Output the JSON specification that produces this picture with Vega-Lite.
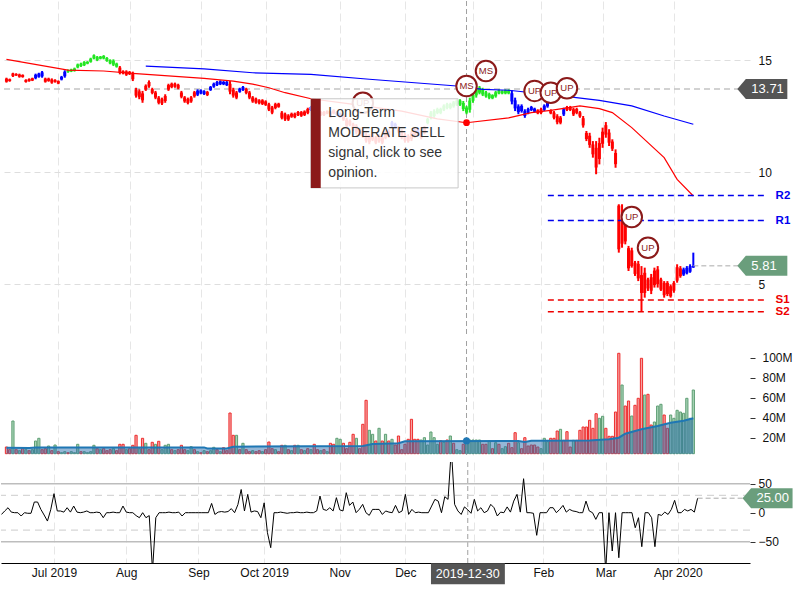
{
"$schema":"https://vega.github.io/schema/vega-lite/v6.json",
"padding":0,
"background":"white",
"spacing":5,
"config":{"view":{"stroke":null},"font":"Liberation Sans","axis":{"labelFontSize":12,"labelColor":"#111","title":null,"labelOverlap":false,"labelFlush":false}},
"datasets":{
"bars":[
{"n":0,"d":"2019-06-07","o":14.17,"h":14.21,"l":13.99,"c":14.03,"v":10.7,"s":-3,"sig":"sell"},
{"n":1,"d":"2019-06-10","o":14.14,"h":14.17,"l":14.03,"c":14.06,"v":8,"s":3,"sig":"sell"},
{"n":2,"d":"2019-06-11","o":14.28,"h":14.43,"l":14.24,"c":14.40,"v":36.7,"s":8.6,"sig":"sell"},
{"n":3,"d":"2019-06-12","o":14.38,"h":14.41,"l":14.29,"c":14.31,"v":8,"s":1,"sig":"sell"},
{"n":4,"d":"2019-06-13","o":14.25,"h":14.39,"l":14.21,"c":14.35,"v":7,"s":0,"sig":"sell"},
{"n":5,"d":"2019-06-14","o":14.33,"h":14.36,"l":14.21,"c":14.24,"v":9,"s":0,"sig":"sell"},
{"n":6,"d":"2019-06-17","o":14.02,"h":14.14,"l":13.99,"c":14.11,"v":8,"s":-5.7,"sig":"sell"},
{"n":7,"d":"2019-06-18","o":14.15,"h":14.18,"l":14.03,"c":14.06,"v":7,"s":0,"sig":"sell"},
{"n":8,"d":"2019-06-19","o":14.09,"h":14.21,"l":14.06,"c":14.18,"v":8,"s":-1,"sig":"sell"},
{"n":9,"d":"2019-06-20","o":14.19,"h":14.39,"l":14.14,"c":14.34,"v":16.7,"s":-1,"sig":"hold"},
{"n":10,"d":"2019-06-21","o":14.25,"h":14.43,"l":14.21,"c":14.39,"v":19.4,"s":18.4,"sig":"hold"},
{"n":11,"d":"2019-06-24","o":14.45,"h":14.51,"l":14.21,"c":14.27,"v":8,"s":18.4,"sig":"hold"},
{"n":12,"d":"2019-06-25","o":14.17,"h":14.21,"l":13.99,"c":14.03,"v":9,"s":5.7,"sig":"sell"},
{"n":13,"d":"2019-06-26","o":14.07,"h":14.21,"l":14.03,"c":14.17,"v":11.7,"s":-4,"sig":"sell"},
{"n":14,"d":"2019-06-27","o":14.13,"h":14.18,"l":13.94,"c":13.99,"v":7,"s":-14.4,"sig":"sell"},
{"n":15,"d":"2019-06-28","o":14.02,"h":14.14,"l":13.99,"c":14.11,"v":12.7,"s":5,"sig":"sell"},
{"n":16,"d":"2019-07-01","o":14.06,"h":14.09,"l":13.92,"c":13.95,"v":6,"s":32.8,"sig":"sell"},
{"n":17,"d":"2019-07-02","o":14.13,"h":14.29,"l":14.09,"c":14.25,"v":5,"s":3,"sig":"hold"},
{"n":18,"d":"2019-07-03","o":14.28,"h":14.54,"l":14.21,"c":14.47,"v":6,"s":2.9,"sig":"hold"},
{"n":19,"d":"2019-07-05","o":14.55,"h":14.58,"l":14.43,"c":14.46,"v":5,"s":1,"sig":"buy"},
{"n":20,"d":"2019-07-08","o":14.49,"h":14.61,"l":14.46,"c":14.58,"v":6,"s":8.6,"sig":"buy"},
{"n":21,"d":"2019-07-09","o":14.52,"h":14.66,"l":14.48,"c":14.62,"v":5,"s":1,"sig":"buy"},
{"n":22,"d":"2019-07-10","o":14.67,"h":14.84,"l":14.63,"c":14.80,"v":13.4,"s":11.5,"sig":"buy"},
{"n":23,"d":"2019-07-11","o":14.84,"h":14.88,"l":14.69,"c":14.73,"v":6,"s":1,"sig":"buy"},
{"n":24,"d":"2019-07-12","o":14.77,"h":14.95,"l":14.73,"c":14.91,"v":6,"s":0,"sig":"buy"},
{"n":25,"d":"2019-07-15","o":14.84,"h":14.95,"l":14.81,"c":14.92,"v":5,"s":1,"sig":"buy"},
{"n":26,"d":"2019-07-16","o":14.92,"h":15.10,"l":14.88,"c":15.06,"v":6,"s":3,"sig":"buy"},
{"n":27,"d":"2019-07-17","o":15.07,"h":15.25,"l":15.03,"c":15.21,"v":12.4,"s":0,"sig":"buy"},
{"n":28,"d":"2019-07-18","o":15.13,"h":15.18,"l":14.95,"c":15.00,"v":9,"s":0,"sig":"buy"},
{"n":29,"d":"2019-07-19","o":15.06,"h":15.18,"l":15.03,"c":15.15,"v":8,"s":1,"sig":"buy"},
{"n":30,"d":"2019-07-22","o":15.18,"h":15.22,"l":15.03,"c":15.07,"v":9,"s":0,"sig":"buy"},
{"n":31,"d":"2019-07-23","o":15.09,"h":15.13,"l":14.92,"c":14.96,"v":7,"s":-8.6,"sig":"buy"},
{"n":32,"d":"2019-07-24","o":14.99,"h":15.03,"l":14.81,"c":14.85,"v":8,"s":0,"sig":"buy"},
{"n":33,"d":"2019-07-25","o":14.79,"h":15.03,"l":14.73,"c":14.97,"v":9,"s":0,"sig":"buy"},
{"n":34,"d":"2019-07-26","o":14.84,"h":14.88,"l":14.66,"c":14.70,"v":7,"s":1,"sig":"buy"},
{"n":35,"d":"2019-07-29","o":14.66,"h":14.73,"l":14.36,"c":14.43,"v":13.4,"s":0,"sig":"sell"},
{"n":36,"d":"2019-07-30","o":14.50,"h":14.54,"l":14.36,"c":14.40,"v":13.4,"s":0,"sig":"sell"},
{"n":37,"d":"2019-07-31","o":14.34,"h":14.54,"l":14.29,"c":14.49,"v":8,"s":11.5,"sig":"sell"},
{"n":38,"d":"2019-08-01","o":14.47,"h":14.51,"l":14.33,"c":14.37,"v":9,"s":1,"sig":"sell"},
{"n":39,"d":"2019-08-02","o":14.40,"h":14.48,"l":14.06,"c":14.14,"v":12.4,"s":0,"sig":"sell"},
{"n":40,"d":"2019-08-05","o":13.67,"h":13.76,"l":13.32,"c":13.41,"v":22.4,"s":0,"sig":"sell"},
{"n":41,"d":"2019-08-06","o":13.34,"h":13.69,"l":13.25,"c":13.60,"v":9,"s":-5,"sig":"sell"},
{"n":42,"d":"2019-08-07","o":13.51,"h":13.62,"l":13.09,"c":13.20,"v":19.4,"s":-8.6,"sig":"sell"},
{"n":43,"d":"2019-08-08","o":13.68,"h":13.91,"l":13.62,"c":13.85,"v":14.4,"s":0,"sig":"sell"},
{"n":44,"d":"2019-08-09","o":14.02,"h":14.09,"l":13.76,"c":13.83,"v":8,"s":-8.6,"sig":"sell"},
{"n":45,"d":"2019-08-12","o":13.70,"h":13.76,"l":13.47,"c":13.53,"v":15.4,"s":-5,"sig":"sell"},
{"n":46,"d":"2019-08-13","o":13.32,"h":13.62,"l":13.25,"c":13.55,"v":13.4,"s":-100,"sig":"sell"},
{"n":47,"d":"2019-08-14","o":13.32,"h":13.39,"l":13.02,"c":13.09,"v":16.4,"s":-8.6,"sig":"sell"},
{"n":48,"d":"2019-08-15","o":13.06,"h":13.32,"l":12.99,"c":13.25,"v":8,"s":0,"sig":"sell"},
{"n":49,"d":"2019-08-16","o":13.17,"h":13.47,"l":13.09,"c":13.39,"v":12.4,"s":0,"sig":"sell"},
{"n":50,"d":"2019-08-19","o":13.68,"h":13.94,"l":13.62,"c":13.88,"v":13.4,"s":0,"sig":"sell"},
{"n":51,"d":"2019-08-20","o":13.94,"h":13.99,"l":13.74,"c":13.79,"v":8,"s":1,"sig":"sell"},
{"n":52,"d":"2019-08-21","o":13.81,"h":13.99,"l":13.76,"c":13.94,"v":7,"s":0,"sig":"sell"},
{"n":53,"d":"2019-08-22","o":13.89,"h":13.94,"l":13.69,"c":13.74,"v":8,"s":0,"sig":"sell"},
{"n":54,"d":"2019-08-23","o":13.55,"h":13.62,"l":13.29,"c":13.36,"v":12.4,"s":1,"sig":"sell"},
{"n":55,"d":"2019-08-26","o":13.33,"h":13.39,"l":13.09,"c":13.15,"v":8,"s":-5.7,"sig":"sell"},
{"n":56,"d":"2019-08-27","o":13.08,"h":13.32,"l":13.02,"c":13.26,"v":7,"s":0,"sig":"sell"},
{"n":57,"d":"2019-08-28","o":13.15,"h":13.39,"l":13.09,"c":13.33,"v":11,"s":0,"sig":"sell"},
{"n":58,"d":"2019-08-29","o":13.56,"h":13.62,"l":13.32,"c":13.38,"v":8,"s":0,"sig":"sell"},
{"n":59,"d":"2019-08-30","o":13.45,"h":13.69,"l":13.39,"c":13.63,"v":6,"s":0,"sig":"hold"},
{"n":60,"d":"2019-09-03","o":13.65,"h":13.69,"l":13.47,"c":13.51,"v":5,"s":0,"sig":"hold"},
{"n":61,"d":"2019-09-04","o":13.48,"h":13.65,"l":13.44,"c":13.61,"v":7,"s":0,"sig":"hold"},
{"n":62,"d":"2019-09-05","o":13.57,"h":13.62,"l":13.39,"c":13.44,"v":6,"s":0,"sig":"sell"},
{"n":63,"d":"2019-09-06","o":13.66,"h":13.84,"l":13.62,"c":13.80,"v":7,"s":0,"sig":"hold"},
{"n":64,"d":"2019-09-09","o":13.81,"h":13.99,"l":13.76,"c":13.94,"v":10.4,"s":16,"sig":"hold"},
{"n":65,"d":"2019-09-10","o":14.02,"h":14.06,"l":13.84,"c":13.88,"v":8,"s":-3,"sig":"hold"},
{"n":66,"d":"2019-09-11","o":13.92,"h":14.09,"l":13.88,"c":14.05,"v":6,"s":1,"sig":"hold"},
{"n":67,"d":"2019-09-12","o":14.02,"h":14.06,"l":13.88,"c":13.92,"v":10,"s":2,"sig":"hold"},
{"n":68,"d":"2019-09-13","o":14.02,"h":14.06,"l":13.84,"c":13.88,"v":7,"s":1,"sig":"hold"},
{"n":69,"d":"2019-09-16","o":13.94,"h":14.06,"l":13.47,"c":13.59,"v":44.7,"s":2,"sig":"sell"},
{"n":70,"d":"2019-09-17","o":13.67,"h":13.76,"l":13.32,"c":13.41,"v":22.4,"s":7,"sig":"sell"},
{"n":71,"d":"2019-09-18","o":13.32,"h":13.62,"l":13.25,"c":13.55,"v":22.4,"s":0,"sig":"sell"},
{"n":72,"d":"2019-09-19","o":13.72,"h":13.76,"l":13.54,"c":13.58,"v":8,"s":14,"sig":"hold"},
{"n":73,"d":"2019-09-20","o":13.66,"h":13.84,"l":13.62,"c":13.80,"v":14.4,"s":40,"sig":"hold"},
{"n":74,"d":"2019-09-23","o":13.70,"h":13.76,"l":13.47,"c":13.53,"v":8,"s":3,"sig":"sell"},
{"n":75,"d":"2019-09-24","o":13.55,"h":13.62,"l":13.25,"c":13.32,"v":6,"s":31.6,"sig":"sell"},
{"n":76,"d":"2019-09-25","o":13.15,"h":13.39,"l":13.09,"c":13.33,"v":7,"s":1,"sig":"sell"},
{"n":77,"d":"2019-09-26","o":13.27,"h":13.32,"l":13.05,"c":13.10,"v":6,"s":3,"sig":"sell"},
{"n":78,"d":"2019-09-27","o":13.20,"h":13.25,"l":13.02,"c":13.07,"v":7,"s":2,"sig":"sell"},
{"n":79,"d":"2019-09-30","o":13.04,"h":13.25,"l":12.99,"c":13.20,"v":6,"s":-8.6,"sig":"sell"},
{"n":80,"d":"2019-10-01","o":13.15,"h":13.20,"l":12.95,"c":13.00,"v":8,"s":17,"sig":"sell"},
{"n":81,"d":"2019-10-02","o":13.02,"h":13.09,"l":12.72,"c":12.79,"v":15.7,"s":-34.5,"sig":"sell"},
{"n":82,"d":"2019-10-03","o":12.88,"h":12.95,"l":12.58,"c":12.65,"v":9,"s":-60.3,"sig":"sell"},
{"n":83,"d":"2019-10-04","o":12.86,"h":13.09,"l":12.80,"c":13.03,"v":8,"s":0,"sig":"sell"},
{"n":84,"d":"2019-10-07","o":13.05,"h":13.09,"l":12.87,"c":12.91,"v":6,"s":0,"sig":"sell"},
{"n":85,"d":"2019-10-08","o":12.65,"h":12.72,"l":12.35,"c":12.42,"v":12.4,"s":1,"sig":"sell"},
{"n":86,"d":"2019-10-09","o":12.35,"h":12.65,"l":12.28,"c":12.58,"v":12.4,"s":0,"sig":"sell"},
{"n":87,"d":"2019-10-10","o":12.52,"h":12.58,"l":12.28,"c":12.34,"v":8,"s":-1,"sig":"sell"},
{"n":88,"d":"2019-10-11","o":12.47,"h":12.65,"l":12.42,"c":12.60,"v":7,"s":0,"sig":"sell"},
{"n":89,"d":"2019-10-14","o":12.60,"h":12.65,"l":12.40,"c":12.45,"v":12.4,"s":0,"sig":"sell"},
{"n":90,"d":"2019-10-15","o":12.54,"h":12.72,"l":12.50,"c":12.68,"v":12.4,"s":1,"sig":"sell"},
{"n":91,"d":"2019-10-16","o":12.67,"h":12.72,"l":12.46,"c":12.51,"v":8,"s":0,"sig":"sell"},
{"n":92,"d":"2019-10-17","o":12.55,"h":12.75,"l":12.50,"c":12.70,"v":7,"s":0,"sig":"sell"},
{"n":93,"d":"2019-10-18","o":12.81,"h":12.87,"l":12.58,"c":12.64,"v":9,"s":1,"sig":"sell"},
{"n":94,"d":"2019-10-21","o":12.77,"h":12.95,"l":12.72,"c":12.90,"v":8,"s":0,"sig":"hold"},
{"n":95,"d":"2019-10-22","o":12.83,"h":12.87,"l":12.65,"c":12.69,"v":13.4,"s":0,"sig":"hold"},
{"n":96,"d":"2019-10-23","o":12.76,"h":12.80,"l":12.58,"c":12.62,"v":8,"s":3,"sig":"sell"},
{"n":97,"d":"2019-10-24","o":12.54,"h":12.72,"l":12.50,"c":12.68,"v":7,"s":28.7,"sig":"sell"},
{"n":98,"d":"2019-10-25","o":12.68,"h":12.72,"l":12.50,"c":12.54,"v":8,"s":5.7,"sig":"sell"},
{"n":99,"d":"2019-10-28","o":12.61,"h":12.75,"l":12.58,"c":12.72,"v":6,"s":4,"sig":"sell"},
{"n":100,"d":"2019-10-29","o":12.66,"h":12.72,"l":12.42,"c":12.48,"v":14.4,"s":8.6,"sig":"sell"},
{"n":101,"d":"2019-10-30","o":12.76,"h":12.80,"l":12.58,"c":12.62,"v":13.4,"s":3,"sig":"sell"},
{"n":102,"d":"2019-10-31","o":12.54,"h":12.72,"l":12.50,"c":12.68,"v":19.4,"s":25.9,"sig":"hold"},
{"n":103,"d":"2019-11-01","o":12.46,"h":12.65,"l":12.42,"c":12.60,"v":18.4,"s":5,"sig":"hold"},
{"n":104,"d":"2019-11-04","o":12.52,"h":12.58,"l":12.28,"c":12.34,"v":14.4,"s":3,"sig":"sell"},
{"n":105,"d":"2019-11-05","o":12.33,"h":12.42,"l":11.98,"c":12.07,"v":9,"s":34.5,"sig":"sell"},
{"n":106,"d":"2019-11-06","o":12.29,"h":12.35,"l":12.05,"c":12.11,"v":15.4,"s":12.6,"sig":"sell"},
{"n":107,"d":"2019-11-07","o":12.13,"h":12.20,"l":11.83,"c":11.90,"v":23.4,"s":18.4,"sig":"sell"},
{"n":108,"d":"2019-11-08","o":11.77,"h":12.13,"l":11.68,"c":12.04,"v":19.4,"s":0,"sig":"sell"},
{"n":109,"d":"2019-11-11","o":11.91,"h":11.98,"l":11.61,"c":11.68,"v":9,"s":6,"sig":"sell"},
{"n":110,"d":"2019-11-12","o":11.83,"h":11.91,"l":11.53,"c":11.61,"v":33.4,"s":14.4,"sig":"sell"},
{"n":111,"d":"2019-11-13","o":11.66,"h":11.75,"l":11.31,"c":11.40,"v":57.4,"s":0,"sig":"sell"},
{"n":112,"d":"2019-11-14","o":11.33,"h":11.68,"l":11.24,"c":11.59,"v":27.4,"s":-4.6,"sig":"sell"},
{"n":113,"d":"2019-11-15","o":11.45,"h":11.75,"l":11.38,"c":11.68,"v":23.4,"s":5.7,"sig":"sell"},
{"n":114,"d":"2019-11-18","o":11.54,"h":11.61,"l":11.24,"c":11.31,"v":16.7,"s":5.7,"sig":"sell"},
{"n":115,"d":"2019-11-19","o":11.38,"h":11.68,"l":11.31,"c":11.61,"v":29.4,"s":5.7,"sig":"sell"},
{"n":116,"d":"2019-11-20","o":11.54,"h":11.61,"l":11.24,"c":11.31,"v":16.7,"s":-3,"sig":"sell"},
{"n":117,"d":"2019-11-21","o":11.53,"h":11.83,"l":11.46,"c":11.76,"v":23.4,"s":3,"sig":"sell"},
{"n":118,"d":"2019-11-22","o":11.83,"h":11.91,"l":11.53,"c":11.61,"v":16.7,"s":1,"sig":"sell"},
{"n":119,"d":"2019-11-25","o":12.04,"h":12.28,"l":11.98,"c":12.22,"v":18.4,"s":0,"sig":"hold"},
{"n":120,"d":"2019-11-26","o":12.14,"h":12.20,"l":11.91,"c":11.97,"v":12.7,"s":12.6,"sig":"hold"},
{"n":121,"d":"2019-11-27","o":11.99,"h":12.05,"l":11.75,"c":11.81,"v":21.7,"s":0,"sig":"sell"},
{"n":122,"d":"2019-11-29","o":11.82,"h":11.91,"l":11.46,"c":11.55,"v":8,"s":2.9,"sig":"sell"},
{"n":123,"d":"2019-12-02","o":11.66,"h":11.75,"l":11.31,"c":11.40,"v":13.4,"s":31.6,"sig":"sell"},
{"n":124,"d":"2019-12-03","o":11.61,"h":11.68,"l":11.31,"c":11.38,"v":18.4,"s":-2.9,"sig":"sell"},
{"n":125,"d":"2019-12-04","o":11.74,"h":11.83,"l":11.38,"c":11.47,"v":38.4,"s":5.7,"sig":"sell"},
{"n":126,"d":"2019-12-05","o":11.89,"h":11.98,"l":11.53,"c":11.62,"v":18.4,"s":0,"sig":"sell"},
{"n":127,"d":"2019-12-06","o":11.91,"h":11.98,"l":11.61,"c":11.68,"v":18.4,"s":1,"sig":"hold"},
{"n":128,"d":"2019-12-09","o":11.53,"h":11.83,"l":11.46,"c":11.76,"v":17.7,"s":0,"sig":"sell"},
{"n":129,"d":"2019-12-10","o":11.75,"h":12.05,"l":11.68,"c":11.98,"v":20,"s":0,"sig":"sell"},
{"n":130,"d":"2019-12-11","o":12.19,"h":12.42,"l":12.13,"c":12.36,"v":12.7,"s":0,"sig":"buy"},
{"n":131,"d":"2019-12-12","o":12.42,"h":12.72,"l":12.35,"c":12.65,"v":25.7,"s":11.5,"sig":"buy"},
{"n":132,"d":"2019-12-13","o":12.50,"h":12.80,"l":12.42,"c":12.72,"v":20,"s":23,"sig":"buy"},
{"n":133,"d":"2019-12-16","o":12.64,"h":12.87,"l":12.58,"c":12.81,"v":13.4,"s":20,"sig":"buy"},
{"n":134,"d":"2019-12-17","o":12.81,"h":12.87,"l":12.58,"c":12.64,"v":17,"s":0,"sig":"buy"},
{"n":135,"d":"2019-12-18","o":12.78,"h":13.02,"l":12.72,"c":12.96,"v":15.4,"s":27.6,"sig":"buy"},
{"n":136,"d":"2019-12-19","o":13.03,"h":13.09,"l":12.80,"c":12.86,"v":17.7,"s":23,"sig":"buy"},
{"n":137,"d":"2019-12-20","o":12.86,"h":13.09,"l":12.80,"c":13.03,"v":21.7,"s":110,"sig":"buy"},
{"n":138,"d":"2019-12-23","o":13.11,"h":13.17,"l":12.87,"c":12.93,"v":14.4,"s":14.4,"sig":"buy"},
{"n":139,"d":"2019-12-24","o":13.01,"h":13.25,"l":12.95,"c":13.19,"v":8,"s":3,"sig":"buy"},
{"n":140,"d":"2019-12-26","o":13.01,"h":13.25,"l":12.95,"c":13.19,"v":7,"s":-3,"sig":"buy"},
{"n":141,"d":"2019-12-27","o":13.08,"h":13.17,"l":12.72,"c":12.81,"v":13.4,"s":10,"sig":"buy"},
{"n":142,"d":"2019-12-30","o":12.65,"h":12.95,"l":12.58,"c":12.88,"v":17.7,"s":5,"sig":"buy"},
{"n":143,"d":"2019-12-31","o":12.78,"h":13.32,"l":12.65,"c":13.19,"v":17.7,"s":-1,"sig":"buy"},
{"n":144,"d":"2020-01-02","o":13.18,"h":13.54,"l":13.09,"c":13.45,"v":17.7,"s":23,"sig":"buy"},
{"n":145,"d":"2020-01-03","o":13.42,"h":13.84,"l":13.32,"c":13.74,"v":17.7,"s":3,"sig":"buy"},
{"n":146,"d":"2020-01-06","o":13.54,"h":13.84,"l":13.47,"c":13.77,"v":17.7,"s":8.6,"sig":"buy"},
{"n":147,"d":"2020-01-07","o":13.69,"h":13.76,"l":13.39,"c":13.46,"v":13.4,"s":0,"sig":"buy"},
{"n":148,"d":"2020-01-08","o":13.56,"h":13.62,"l":13.32,"c":13.38,"v":13.4,"s":3,"sig":"buy"},
{"n":149,"d":"2020-01-09","o":13.31,"h":13.54,"l":13.25,"c":13.48,"v":16.7,"s":14.4,"sig":"buy"},
{"n":150,"d":"2020-01-10","o":13.43,"h":13.47,"l":13.25,"c":13.29,"v":9,"s":8.6,"sig":"buy"},
{"n":151,"d":"2020-01-13","o":13.38,"h":13.62,"l":13.32,"c":13.56,"v":15,"s":-5.7,"sig":"buy"},
{"n":152,"d":"2020-01-14","o":13.65,"h":13.69,"l":13.47,"c":13.51,"v":13.4,"s":1,"sig":"buy"},
{"n":153,"d":"2020-01-15","o":13.51,"h":13.65,"l":13.47,"c":13.61,"v":9,"s":0,"sig":"buy"},
{"n":154,"d":"2020-01-16","o":13.51,"h":13.69,"l":13.47,"c":13.65,"v":11,"s":10,"sig":"buy"},
{"n":155,"d":"2020-01-17","o":13.65,"h":13.69,"l":13.47,"c":13.51,"v":14.4,"s":1,"sig":"buy"},
{"n":156,"d":"2020-01-21","o":13.52,"h":13.65,"l":13.02,"c":13.15,"v":10,"s":20,"sig":"hold"},
{"n":157,"d":"2020-01-22","o":13.20,"h":13.32,"l":12.72,"c":12.84,"v":25,"s":31.6,"sig":"hold"},
{"n":158,"d":"2020-01-23","o":12.67,"h":13.02,"l":12.58,"c":12.93,"v":15,"s":1,"sig":"hold"},
{"n":159,"d":"2020-01-24","o":12.95,"h":13.02,"l":12.65,"c":12.72,"v":9,"s":58.6,"sig":"hold"},
{"n":160,"d":"2020-01-27","o":12.72,"h":12.80,"l":12.42,"c":12.50,"v":20,"s":0,"sig":"hold"},
{"n":161,"d":"2020-01-28","o":12.81,"h":12.87,"l":12.58,"c":12.64,"v":11.7,"s":0,"sig":"hold"},
{"n":162,"d":"2020-01-29","o":12.90,"h":12.95,"l":12.72,"c":12.77,"v":12.7,"s":-1,"sig":"hold"},
{"n":163,"d":"2020-01-30","o":12.83,"h":12.87,"l":12.65,"c":12.69,"v":12.7,"s":-39,"sig":"hold"},
{"n":164,"d":"2020-01-31","o":12.76,"h":12.80,"l":12.58,"c":12.62,"v":10.7,"s":0,"sig":"sell"},
{"n":165,"d":"2020-02-03","o":12.64,"h":12.87,"l":12.58,"c":12.81,"v":9,"s":0,"sig":"sell"},
{"n":166,"d":"2020-02-04","o":12.78,"h":13.02,"l":12.72,"c":12.96,"v":19.4,"s":0,"sig":"hold"},
{"n":167,"d":"2020-02-05","o":12.93,"h":13.17,"l":12.87,"c":13.11,"v":16,"s":8.6,"sig":"hold"},
{"n":168,"d":"2020-02-06","o":12.76,"h":12.80,"l":12.58,"c":12.62,"v":19.4,"s":8.6,"sig":"sell"},
{"n":169,"d":"2020-02-07","o":12.65,"h":12.72,"l":12.35,"c":12.42,"v":19.4,"s":0,"sig":"sell"},
{"n":170,"d":"2020-02-10","o":12.49,"h":12.58,"l":12.13,"c":12.22,"v":26.7,"s":5.7,"sig":"sell"},
{"n":171,"d":"2020-02-11","o":12.20,"h":12.50,"l":12.13,"c":12.43,"v":28.4,"s":12.6,"sig":"sell"},
{"n":172,"d":"2020-02-12","o":12.80,"h":12.87,"l":12.50,"c":12.57,"v":17.4,"s":1,"sig":"hold"},
{"n":173,"d":"2020-02-13","o":12.90,"h":12.95,"l":12.72,"c":12.77,"v":26,"s":5.7,"sig":"sell"},
{"n":174,"d":"2020-02-14","o":12.90,"h":12.95,"l":12.72,"c":12.77,"v":10.7,"s":3,"sig":"sell"},
{"n":175,"d":"2020-02-18","o":12.57,"h":12.87,"l":12.50,"c":12.80,"v":17.4,"s":2,"sig":"sell"},
{"n":176,"d":"2020-02-19","o":12.81,"h":12.87,"l":12.58,"c":12.64,"v":17.4,"s":0,"sig":"sell"},
{"n":177,"d":"2020-02-20","o":12.66,"h":12.72,"l":12.42,"c":12.48,"v":27.4,"s":0,"sig":"sell"},
{"n":178,"d":"2020-02-21","o":12.40,"h":12.50,"l":11.98,"c":12.08,"v":30.7,"s":20,"sig":"sell"},
{"n":179,"d":"2020-02-24","o":11.74,"h":11.83,"l":11.38,"c":11.47,"v":30.7,"s":3,"sig":"sell"},
{"n":180,"d":"2020-02-25","o":11.62,"h":11.75,"l":11.08,"c":11.21,"v":37.4,"s":0,"sig":"sell"},
{"n":181,"d":"2020-02-26","o":11.23,"h":11.38,"l":10.64,"c":10.79,"v":29.4,"s":-11.5,"sig":"sell"},
{"n":182,"d":"2020-02-27","o":11.08,"h":11.38,"l":9.90,"c":10.20,"v":44,"s":0,"sig":"sell"},
{"n":183,"d":"2020-02-28","o":10.58,"h":11.53,"l":10.34,"c":11.29,"v":39.4,"s":0,"sig":"sell"},
{"n":184,"d":"2020-03-02","o":11.26,"h":11.98,"l":11.08,"c":11.80,"v":41.4,"s":-100,"sig":"sell"},
{"n":185,"d":"2020-03-03","o":12.09,"h":12.23,"l":11.53,"c":11.67,"v":29.4,"s":0,"sig":"sell"},
{"n":186,"d":"2020-03-04","o":11.76,"h":11.91,"l":11.16,"c":11.31,"v":21.4,"s":-66,"sig":"sell"},
{"n":187,"d":"2020-03-05","o":11.36,"h":11.46,"l":10.94,"c":11.04,"v":21.4,"s":0,"sig":"sell"},
{"n":188,"d":"2020-03-06","o":10.85,"h":11.01,"l":10.19,"c":10.35,"v":45.7,"s":-77.6,"sig":"sell"},
{"n":189,"d":"2020-03-09","o":8.50,"h":8.56,"l":6.40,"c":6.55,"v":104.4,"s":0,"sig":"sell"},
{"n":190,"d":"2020-03-10","o":6.80,"h":8.56,"l":6.62,"c":7.90,"v":72.7,"s":0,"sig":"sell"},
{"n":191,"d":"2020-03-11","o":7.70,"h":7.81,"l":6.77,"c":6.90,"v":51.7,"s":0,"sig":"sell"},
{"n":192,"d":"2020-03-12","o":6.60,"h":6.70,"l":5.58,"c":5.70,"v":56.7,"s":0,"sig":"sell"},
{"n":193,"d":"2020-03-13","o":5.80,"h":6.62,"l":5.73,"c":6.50,"v":41.7,"s":-25.9,"sig":"sell"},
{"n":194,"d":"2020-03-16","o":5.95,"h":6.03,"l":5.36,"c":5.45,"v":52.4,"s":-8.6,"sig":"sell"},
{"n":195,"d":"2020-03-17","o":5.90,"h":6.03,"l":5.13,"c":5.25,"v":59.4,"s":-58.6,"sig":"sell"},
{"n":196,"d":"2020-03-18","o":5.40,"h":5.80,"l":3.79,"c":4.60,"v":99.4,"s":0,"sig":"sell"},
{"n":197,"d":"2020-03-19","o":4.60,"h":5.73,"l":4.39,"c":5.50,"v":62.7,"s":0,"sig":"sell"},
{"n":198,"d":"2020-03-20","o":5.20,"h":5.28,"l":4.69,"c":4.80,"v":63.4,"s":-8.6,"sig":"sell"},
{"n":199,"d":"2020-03-23","o":5.30,"h":5.45,"l":4.55,"c":4.70,"v":32.7,"s":-58.6,"sig":"sell"},
{"n":200,"d":"2020-03-24","o":4.95,"h":5.73,"l":4.84,"c":5.60,"v":35.7,"s":-3,"sig":"sell"},
{"n":201,"d":"2020-03-25","o":5.00,"h":5.80,"l":4.84,"c":5.65,"v":51.7,"s":-4.6,"sig":"sell"},
{"n":202,"d":"2020-03-26","o":4.75,"h":5.28,"l":4.69,"c":5.20,"v":53.4,"s":1,"sig":"sell"},
{"n":203,"d":"2020-03-27","o":5.05,"h":5.13,"l":4.39,"c":4.50,"v":42.7,"s":-3,"sig":"sell"},
{"n":204,"d":"2020-03-30","o":5.05,"h":5.13,"l":4.46,"c":4.55,"v":29.4,"s":5.7,"sig":"sell"},
{"n":205,"d":"2020-03-31","o":4.45,"h":4.98,"l":4.39,"c":4.90,"v":42.7,"s":21.3,"sig":"sell"},
{"n":206,"d":"2020-04-01","o":4.70,"h":5.13,"l":4.61,"c":5.05,"v":39.4,"s":0,"sig":"sell"},
{"n":207,"d":"2020-04-02","o":5.15,"h":5.88,"l":5.06,"c":5.75,"v":47.4,"s":0,"sig":"sell"},
{"n":208,"d":"2020-04-03","o":5.35,"h":5.80,"l":5.28,"c":5.70,"v":45.7,"s":5.7,"sig":"sell"},
{"n":209,"d":"2020-04-06","o":5.42,"h":5.73,"l":5.36,"c":5.65,"v":44.4,"s":3,"sig":"hold"},
{"n":210,"d":"2020-04-07","o":5.48,"h":5.80,"l":5.43,"c":5.72,"v":59.4,"s":5.7,"sig":"hold"},
{"n":211,"d":"2020-04-08","o":5.55,"h":5.88,"l":5.50,"c":5.80,"v":39.4,"s":1,"sig":"hold"},
{"n":212,"d":"2020-04-09","o":5.74,"h":6.40,"l":5.72,"c":5.81,"v":67.7,"s":25,"sig":"hold"}
],
"signals":[
{"n":110,"p":13.09,"label":"UP"},
{"n":142,"p":13.84,"label":"MS"},
{"n":148,"p":14.51,"label":"MS"},
{"n":163,"p":13.62,"label":"UP"},
{"n":168,"p":13.54,"label":"UP"},
{"n":173,"p":13.74,"label":"UP"},
{"n":193,"p":7.99,"label":"UP"},
{"n":198,"p":6.62,"label":"UP"}
],
"cross":[{"n":142,"d":"2019-12-30"}],
"vma":[{"n":0,"v":10},{"n":7,"v":9.6},{"n":9,"v":10.3},{"n":61,"v":10.3},{"n":62,"v":9.3},{"n":68,"v":9.3},{"n":70,"v":11},{"n":110,"v":11.7},{"n":113,"v":13.8},{"n":121,"v":14.5},{"n":123,"v":16.5},{"n":158,"v":16.8},{"n":160,"v":15.8},{"n":162,"v":17},{"n":180,"v":17.2},{"n":186,"v":18.5},{"n":189,"v":20},{"n":191,"v":24},{"n":196,"v":28.4},{"n":201,"v":31.7},{"n":205,"v":35},{"n":209,"v":37},{"n":212,"v":39.4}]
},
"vconcat":[
{
"width":749,"height":333,
"layer":[
{"data":{"values":[{"p":13.71}]},"mark":{"type":"rule","stroke":"#c4c4c4","strokeWidth":1.5,"strokeDash":[6,4]},
 "encoding":{"y":{"field":"p","type":"quantitative","scale":{"domain":[2.768,17.634],"nice":false,"zero":false},
  "axis":{"orient":"right","values":[5,10,15],"ticks":false,"domain":false,"grid":true,"gridColor":"#dedede","gridDash":[6,4],"labelPadding":8,"labelOverlap":false,"zindex":0}}}},
{"data":{"name":"cross"},"mark":{"type":"rule","stroke":"#a0a0a0","strokeDash":[5,3]},
 "encoding":{"x":{"field":"n","type":"quantitative","scale":{"domain":[-0.14,227.95],"nice":false,"zero":false},
  "axis":{"values":[16,38,60,80,103,123,144,165,184,206],"labels":false,"ticks":false,"domain":false,"grid":true,"gridColor":"#e6e6e6","gridDash":[8,4],"zindex":0}}}},
{"data":{"name":"bars"},"mark":{"type":"rule","strokeWidth":2,"clip":true},
 "encoding":{"x":{"field":"n","type":"quantitative"},"y":{"field":"l","type":"quantitative"},"y2":{"field":"h"},
  "color":{"field":"sig","type":"nominal","scale":{"domain":["sell","hold","buy"],"range":["#ff0000","#0000ff","#22e622"]},"legend":null}}},
{"data":{"name":"bars"},"mark":{"type":"bar","size":3,"clip":true},
 "encoding":{"x":{"field":"n","type":"quantitative"},"y":{"field":"o","type":"quantitative"},"y2":{"field":"c"},
  "color":{"field":"sig","type":"nominal","legend":null}}},
{"data":{"values":[{"n":0,"p":15.03},{"n":19,"p":14.55},{"n":30,"p":14.51},{"n":40,"p":14.39},{"n":61,"p":14.18},{"n":70,"p":14.06},{"n":76,"p":13.92},{"n":81,"p":13.76},{"n":86,"p":13.54},{"n":94,"p":13.27},{"n":106,"p":13.04},{"n":122,"p":12.72},{"n":133,"p":12.37},{"n":142,"p":12.2},{"n":155,"p":12.42},{"n":162,"p":12.65},{"n":168,"p":12.75},{"n":177,"p":12.95},{"n":183,"p":12.83},{"n":187,"p":12.65},{"n":193,"p":11.98},{"n":198,"p":11.31},{"n":203,"p":10.64},{"n":207,"p":9.67},{"n":212,"p":8.93}]},
 "mark":{"type":"line","stroke":"#ff0000","strokeWidth":1.2,"clip":true},
 "encoding":{"x":{"field":"n","type":"quantitative"},"y":{"field":"p","type":"quantitative"}}},
{"data":{"values":[{"n":43,"p":14.73},{"n":61,"p":14.6},{"n":76,"p":14.43},{"n":94,"p":14.36},{"n":112,"p":14.14},{"n":139,"p":13.84},{"n":147,"p":13.69},{"n":155,"p":13.65},{"n":172,"p":13.39},{"n":183,"p":13.2},{"n":193,"p":12.95},{"n":203,"p":12.5},{"n":212,"p":12.13}]},
 "mark":{"type":"line","stroke":"#0000ff","strokeWidth":1.2,"clip":true},
 "encoding":{"x":{"field":"n","type":"quantitative"},"y":{"field":"p","type":"quantitative"}}},
{"data":{"values":[{"name":"R2","p":8.95},{"name":"R1","p":7.83},{"name":"S1","p":4.29},{"name":"S2","p":3.76}]},
 "mark":{"type":"rule","strokeWidth":1.5,"strokeDash":[6,4],"clip":false},
 "encoding":{"x":{"datum":167.1,"type":"quantitative"},"x2":{"datum":234.8},"y":{"field":"p","type":"quantitative"},
  "stroke":{"condition":{"test":"indexof(datum.name,'R')==0","value":"#0000ee"},"value":"#ee0000"}}},
{"data":{"values":[{"name":"R2","p":8.95},{"name":"R1","p":7.83},{"name":"S1","p":4.29},{"name":"S2","p":3.76}]},
 "mark":{"type":"text","align":"left","baseline":"middle","fontSize":11.5,"fontWeight":"bold","clip":false},
 "encoding":{"x":{"datum":237.4,"type":"quantitative"},"y":{"field":"p","type":"quantitative"},"text":{"field":"name"},
  "fill":{"condition":{"test":"indexof(datum.name,'R')==0","value":"#0000ee"},"value":"#ee0000"}}},
{"data":{"values":[{"n":142,"p":12.2}]},"mark":{"type":"point","filled":true,"fill":"#ff0000","size":45,"opacity":1},
 "encoding":{"x":{"field":"n","type":"quantitative"},"y":{"field":"p","type":"quantitative"}}},
{"data":{"name":"signals"},"transform":[{"filter":"datum.n != 168 && datum.n != 173"}],
 "mark":{"type":"point","shape":"circle","size":420,"filled":true,"fill":"white","stroke":"#8b1a1a","strokeWidth":2,"opacity":1},
 "encoding":{"x":{"field":"n","type":"quantitative"},"y":{"field":"p","type":"quantitative"}}},
{"data":{"name":"signals"},"transform":[{"filter":"datum.n != 168 && datum.n != 173"}],
 "mark":{"type":"text","fontSize":9.5,"fill":"#8b1a1a","align":"center","baseline":"middle"},
 "encoding":{"x":{"field":"n","type":"quantitative"},"y":{"field":"p","type":"quantitative"},"text":{"field":"label"}}},
{"data":{"name":"signals"},"transform":[{"filter":"datum.n == 168"}],
 "mark":{"type":"point","shape":"circle","size":420,"filled":true,"fill":"white","stroke":"#8b1a1a","strokeWidth":2,"opacity":1},
 "encoding":{"x":{"field":"n","type":"quantitative"},"y":{"field":"p","type":"quantitative"}}},
{"data":{"name":"signals"},"transform":[{"filter":"datum.n == 168"}],
 "mark":{"type":"text","fontSize":9.5,"fill":"#8b1a1a","align":"center","baseline":"middle"},
 "encoding":{"x":{"field":"n","type":"quantitative"},"y":{"field":"p","type":"quantitative"},"text":{"field":"label"}}},
{"data":{"name":"signals"},"transform":[{"filter":"datum.n == 173"}],
 "mark":{"type":"point","shape":"circle","size":420,"filled":true,"fill":"white","stroke":"#8b1a1a","strokeWidth":2,"opacity":1},
 "encoding":{"x":{"field":"n","type":"quantitative"},"y":{"field":"p","type":"quantitative"}}},
{"data":{"name":"signals"},"transform":[{"filter":"datum.n == 173"}],
 "mark":{"type":"text","fontSize":9.5,"fill":"#8b1a1a","align":"center","baseline":"middle"},
 "encoding":{"x":{"field":"n","type":"quantitative"},"y":{"field":"p","type":"quantitative"},"text":{"field":"label"}}},
{"data":{"values":[{"msg":"Long-Term\nMODERATE SELL\nsignal, click to see\nopinion."}]},
 "mark":{"type":"rect","fill":"white","fillOpacity":0.86,"stroke":"#c8c8c8","strokeWidth":1},
 "encoding":{"x":{"datum":93.95,"type":"quantitative"},"x2":{"datum":139.4},"y":{"datum":13.27,"type":"quantitative"},"y2":{"datum":9.29}}},
{"data":{"values":[{"msg":"Long-Term\nMODERATE SELL\nsignal, click to see\nopinion."}]},
 "mark":{"type":"rect","fill":"#8b1a1a"},
 "encoding":{"x":{"datum":93.95,"type":"quantitative"},"x2":{"datum":97.0},"y":{"datum":13.27,"type":"quantitative"},"y2":{"datum":9.29}}},
{"data":{"values":[{"msg":"Long-Term\nMODERATE SELL\nsignal, click to see\nopinion."}]},
 "mark":{"type":"text","align":"left","baseline":"top","fontSize":14,"lineHeight":20,"lineBreak":"\n","fill":"#333333"},
 "encoding":{"x":{"datum":99.35,"type":"quantitative"},"y":{"datum":12.95,"type":"quantitative"},"text":{"field":"msg"}}},
{"data":{"values":[{"val":5.81}]},"mark":{"type":"rule","stroke":"#aaaaaa","strokeDash":[5,3],"clip":false},
 "encoding":{"x":{"datum":212,"type":"quantitative"},"x2":{"datum":226},"y":{"field":"val","type":"quantitative"}}},
{"data":{"values":[{"val":13.71},{"val":5.81}]},
 "mark":{"type":"point","shape":"M-1,0L-0.66,-0.4L1,-0.4L1,0.4L-0.66,0.4Z","size":2500,"filled":true,"opacity":1,"strokeWidth":0,"clip":false},
 "encoding":{"x":{"datum":233.3,"type":"quantitative"},"y":{"field":"val","type":"quantitative"},
  "fill":{"condition":{"test":"datum.val > 10","value":"#555555"},"value":"#6a9e7c"}}},
{"data":{"values":[{"val":13.71},{"val":5.81}]},
 "mark":{"type":"text","align":"left","baseline":"middle","fontSize":13,"fill":"white","clip":false},
 "encoding":{"x":{"datum":229.9,"type":"quantitative"},"y":{"field":"val","type":"quantitative"},"text":{"field":"val","format":".2f"}}}
]
},
{
"width":749,"height":114,
"layer":[
{"data":{"name":"bars"},"mark":{"type":"bar","size":2.2,"strokeWidth":1,"clip":true},
 "encoding":{"x":{"field":"n","type":"quantitative","scale":{"domain":[-0.14,227.95],"nice":false,"zero":false},
   "axis":{"values":[16,38,60,80,103,123,144,165,184,206],"labels":false,"ticks":false,"domain":false,"grid":true,"gridColor":"#e6e6e6","gridDash":[8,4],"zindex":0}},
  "y":{"field":"v","type":"quantitative","scale":{"domain":[2.7,116.7],"nice":false,"zero":false},
   "axis":{"orient":"right","values":[20,40,60,80,100],"tickCount":5,"labelExpr":"datum.value + 'M'","ticks":true,"tickSize":5,"tickColor":"#333333","domain":false,"grid":false,"labelPadding":7,"labelOverlap":false,"labelSeparation":0,"labelFontSize":12}},
  "y2":{"datum":4},
  "fill":{"condition":{"test":"datum.c < datum.o","value":"#f5a3a3"},"value":"#a8d4b6"},
  "stroke":{"condition":{"test":"datum.c < datum.o","value":"#ee2c2c"},"value":"#5e9e74"}}},
{"data":{"name":"cross"},"mark":{"type":"rule","stroke":"#a0a0a0","strokeDash":[5,3]},
 "encoding":{"x":{"field":"n","type":"quantitative"}}},
{"data":{"name":"vma"},"mark":{"type":"area","fill":"#2b6fad","opacity":0.5,"clip":true},
 "encoding":{"x":{"field":"n","type":"quantitative"},"y":{"field":"v","type":"quantitative"},"y2":{"datum":4}}},
{"data":{"name":"vma"},"mark":{"type":"line","stroke":"#1f77b4","strokeWidth":2,"clip":true},
 "encoding":{"x":{"field":"n","type":"quantitative"},"y":{"field":"v","type":"quantitative"}}},
{"data":{"values":[{"n":142,"v":16.8}]},"mark":{"type":"point","filled":true,"fill":"#1f77b4","size":50,"opacity":1},
 "encoding":{"x":{"field":"n","type":"quantitative"},"y":{"field":"v","type":"quantitative"}}}
]
},
{
"width":749,"height":101,
"layer":[
{"data":{"name":"cross"},"mark":{"type":"rule","stroke":"#a0a0a0","strokeDash":[5,3]},
 "encoding":{"x":{"field":"n","type":"quantitative","scale":{"domain":[-0.14,227.95],"nice":false,"zero":false},
  "axis":{"values":[16,38,60,80,103,123,144,165,184,206],
   "labelExpr":"datum.value==16?'Jul 2019':datum.value==38?'Aug':datum.value==60?'Sep':datum.value==80?'Oct 2019':datum.value==103?'Nov':datum.value==123?'Dec':datum.value==165?'Feb':datum.value==184?'Mar':datum.value==206?'Apr 2020':''",
   "ticks":false,"tickSize":0,"domain":true,"domainColor":"#000000","domainWidth":1,"grid":true,"gridColor":"#e6e6e6","gridDash":[8,4],"labelPadding":4,"labelOverlap":false,"zindex":0}}}},
{"data":{"values":[{"y":50},{"y":-50}]},"mark":{"type":"rule","stroke":"#bdbdbd","strokeWidth":1.5},
 "encoding":{"y":{"field":"y","type":"quantitative","scale":{"domain":[-86.7,87.4],"nice":false,"zero":false},
  "axis":{"orient":"right","values":[-50,0,50],"ticks":true,"tickSize":5,"tickColor":"#333333","domain":false,"grid":false,"labelPadding":3,"labelOverlap":false}}}},
{"data":{"values":[{"y":30},{"y":-30}]},"mark":{"type":"rule","stroke":"#cccccc","strokeWidth":1,"strokeDash":[7,5]},
 "encoding":{"y":{"field":"y","type":"quantitative"}}},
{"data":{"name":"bars"},"mark":{"type":"line","stroke":"#000000","strokeWidth":1,"clip":true},
 "encoding":{"x":{"field":"n","type":"quantitative"},"y":{"field":"s","type":"quantitative"}}},
{"data":{"values":[{"val":25}]},"mark":{"type":"rule","stroke":"#aaaaaa","strokeDash":[5,3],"clip":false},
 "encoding":{"x":{"datum":212,"type":"quantitative"},"x2":{"datum":226},"y":{"field":"val","type":"quantitative"}}},
{"data":{"values":[{"val":25}]},
 "mark":{"type":"point","shape":"M-1,0L-0.66,-0.4L1,-0.4L1,0.4L-0.66,0.4Z","size":2500,"filled":true,"fill":"#6a9e7c","opacity":1,"strokeWidth":0,"clip":false},
 "encoding":{"x":{"datum":233.3,"type":"quantitative"},"y":{"field":"val","type":"quantitative"}}},
{"data":{"values":[{"val":25}]},
 "mark":{"type":"text","align":"left","baseline":"middle","fontSize":13,"fill":"white","clip":false},
 "encoding":{"x":{"datum":229.9,"type":"quantitative"},"y":{"field":"val","type":"quantitative"},"text":{"field":"val","format":".2f"}}},
{"data":{"name":"cross"},"mark":{"type":"rect","fill":"#555555","clip":false},
 "encoding":{"x":{"datum":130.8,"type":"quantitative"},"x2":{"datum":153.3},"y":{"datum":-87.2,"type":"quantitative"},"y2":{"datum":-123.4}}},
{"data":{"name":"cross"},"mark":{"type":"text","fill":"white","fontSize":12.5,"align":"center","baseline":"middle","clip":false},
 "encoding":{"x":{"field":"n","type":"quantitative"},"y":{"datum":-105.3,"type":"quantitative"},"text":{"field":"d"}}}
]
}
]
}
